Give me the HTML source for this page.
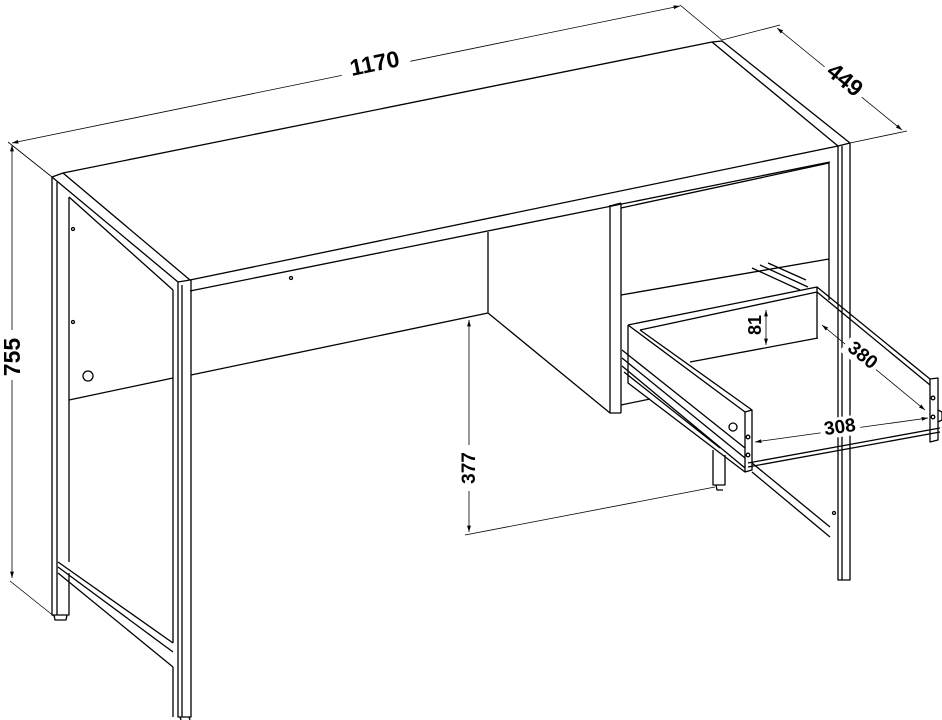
<!DOCTYPE html>
<html><head><meta charset="utf-8"><style>
html,body{margin:0;padding:0;background:#fff}
svg{display:block}
text{font-family:"Liberation Sans",sans-serif;font-weight:bold;fill:#000}
</style></head><body>
<svg width="942" height="720" viewBox="0 0 942 720" xmlns="http://www.w3.org/2000/svg">
<defs>
<marker id="a" viewBox="0 0 10 10" refX="10" refY="5" markerWidth="8" markerHeight="8" orient="auto-start-reverse"><path d="M0,2 L10,5 L0,8 z" fill="#000"/></marker>
</defs>
<g stroke="#000" stroke-width="1.3" fill="none" stroke-linejoin="round">
<!-- top surface -->
<path d="M52,177 L63,173 L712,42 L722,41 L850,143"/>
<path d="M63,173 L190,280 M52,177 L178,282 L190,280 L838,146 L850,143"/>
<path d="M712,42 L838,146"/>
<path d="M190,291 L830,162"/>
<!-- left leg frame -->
<path d="M52,177 L52,615 L69,615 L69,573 M57,182 L57,615 M69,197 L69,562"/>
<path d="M178,282 L178,717 L191,717 L191,280 M182,285 L182,717 M173,290 L173,643 M173,667 L173,717"/>
<path d="M58,562 L173,643 M58,567 L173,652 M58,573 L173,667"/>
<path d="M69,197 L173,290"/>
<path d="M69,400 L173,378"/>
<circle cx="73" cy="229" r="1.5"/><circle cx="73" cy="322" r="1.5"/><circle cx="88" cy="376" r="5"/>
<circle cx="291" cy="278" r="1.5"/>
<path d="M54,615 L55,620 L66,620 L67,615 M180,717 L181,720 M189,717 L190,720"/>
<!-- apron -->
<path d="M191,375 L488,313 L488,232 M488,313 L610,413 L621,413"/>
<path d="M610,205 L610,413 M621,203 L621,413 M610,206 L621,203"/>
<!-- upper drawer front -->
<path d="M621,208 L829,163 M621,295 L829,259 M829,163 L829,300"/>
<!-- right leg -->
<path d="M838,146 L838,580 L850,580 L850,143 M842,146 L842,580"/>
<path d="M752,463 L830,527 M752,472 L830,537"/>
<circle cx="834" cy="513" r="1.5"/>
<!-- front right short leg -->
<path d="M713,450 L713,485 L725,485 L725,455 M716,485 L717,490 L723,490"/>
<path d="M621,405 L650,399"/>
<!-- slide rails -->
<path d="M622,350 L745,448 M622,358 L745,458 M622,366 L745,468 M624,372 L720,448"/>
<path d="M752,268 L800,290 M760,265 L808,287 M768,263 L806,280"/>
<!-- open drawer: left side panel -->
<path d="M628,325 L745,412 L752,410 L752,470 L745,472 L745,412 M628,325 L628,383 L745,472 M640,330 L752,410"/>
<circle cx="733" cy="427" r="4"/><circle cx="748" cy="437" r="1.8"/><circle cx="748" cy="455" r="1.8"/>
<!-- back panel -->
<path d="M628,325 L817,287 L817,292 L640,330 M690,362 L818,338 M817,292 L817,338"/>
<!-- right side -->
<path d="M817,287 L930,379 L938,378 L938,440 L930,442 L930,379 M817,292 L930,385"/>
<circle cx="933" cy="398" r="1.8"/><circle cx="933" cy="417" r="1.8"/>
<path d="M938,410 L942,412 L942,420 L938,422"/>
<!-- drawer bottom front -->
<path d="M748,463 L940,428 M748,467 L940,432"/>
</g>
<g stroke="#000" stroke-width="0.8" fill="none">
<path d="M52,177 L8,142 M55,617 L10,581 M680,5 L722,40 M722,40 L780,25 M850,143 L907,131"/>
<path d="M12,145 L12,578" marker-start="url(#a)" marker-end="url(#a)"/>
<path d="M12,143 L680,6" marker-start="url(#a)" marker-end="url(#a)"/>
<path d="M777,28 L902,130" marker-start="url(#a)" marker-end="url(#a)"/>
<path d="M469,320 L469,532" marker-start="url(#a)" marker-end="url(#a)"/>
<path d="M465,535 L715,487"/>
<path d="M766,310 L766,345" marker-start="url(#a)" marker-end="url(#a)"/>
<path d="M822,325 L925,410" marker-start="url(#a)" marker-end="url(#a)"/>
<path d="M755,442 L928,418" marker-start="url(#a)" marker-end="url(#a)"/>
</g>
<g>
<rect x="0" y="330" width="26" height="50" fill="#fff"/>
<text x="14" y="357" font-size="23" text-anchor="middle" transform="rotate(-90 14 357)" dominant-baseline="middle">755</text>
<rect x="340" y="50" width="70" height="26" fill="#fff" transform="rotate(-11.6 375 63)"/>
<text x="375" y="65" font-size="23" text-anchor="middle" transform="rotate(-11.6 375 65)" dominant-baseline="middle">1170</text>
<rect x="820" y="68" width="48" height="26" fill="#fff" transform="rotate(39 844 81)"/>
<text x="844" y="81" font-size="23" text-anchor="middle" transform="rotate(39 844 81)" dominant-baseline="middle">449</text>
<rect x="458" y="445" width="22" height="46" fill="#fff"/>
<text x="470" y="468" font-size="19" text-anchor="middle" transform="rotate(-90 470 468)" dominant-baseline="middle">377</text>
<text x="756" y="325" font-size="18" text-anchor="middle" transform="rotate(-90 756 325)" dominant-baseline="middle">81</text>
<rect x="842" y="344" width="40" height="22" fill="#fff" transform="rotate(39 862 355)"/>
<text x="862" y="356" font-size="19" text-anchor="middle" transform="rotate(39 862 356)" dominant-baseline="middle">380</text>
<rect x="820" y="417" width="40" height="20" fill="#fff" transform="rotate(-8 840 427)"/>
<text x="840" y="428" font-size="19" text-anchor="middle" transform="rotate(-8 840 428)" dominant-baseline="middle">308</text>
</g>
</svg>
</body></html>
